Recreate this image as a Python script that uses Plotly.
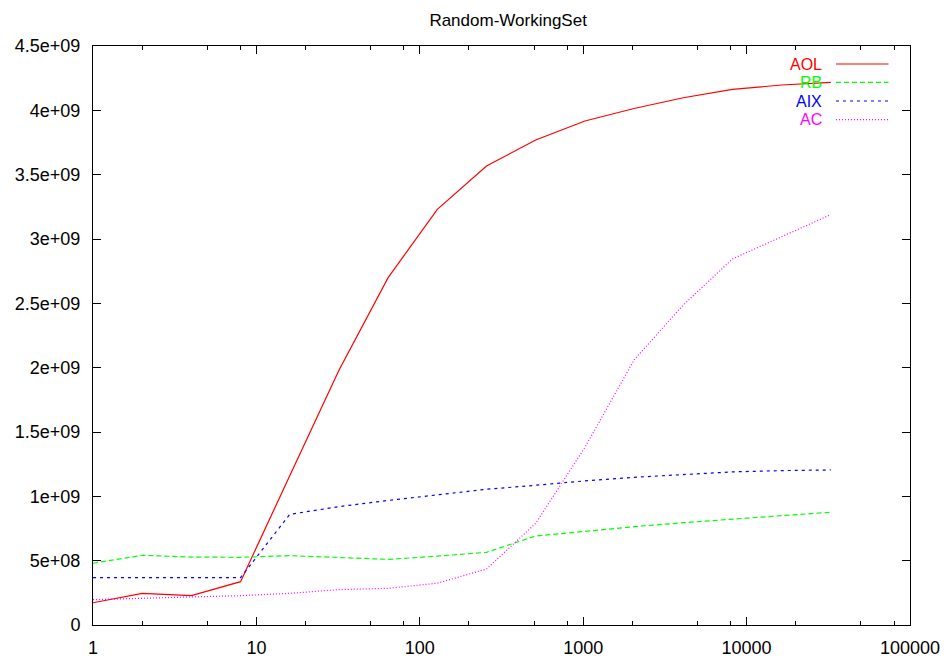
import plotly.graph_objects as go

# Working-set size (powers of two) on a log axis
working_set = [1, 2, 4, 8, 16, 32, 64, 128, 256, 512, 1024, 2048, 4096, 8192, 16384, 32768]

aol = [1.73e8, 2.46e8, 2.28e8, 3.37e8, 1.16e9, 1.98e9, 2.70e9, 3.23e9,
       3.567e9, 3.77e9, 3.917e9, 4.014e9, 4.098e9, 4.163e9, 4.197e9, 4.218e9]
rb = [4.80e8, 5.42e8, 5.28e8, 5.26e8, 5.39e8, 5.26e8, 5.10e8, 5.35e8,
      5.65e8, 6.92e8, 7.30e8, 7.64e8, 7.95e8, 8.24e8, 8.50e8, 8.76e8]
aix = [3.68e8, 3.68e8, 3.68e8, 3.68e8, 8.60e8, 9.20e8, 9.68e8, 1.01e9,
       1.055e9, 1.086e9, 1.12e9, 1.148e9, 1.171e9, 1.19e9, 1.20e9, 1.205e9]
ac = [1.97e8, 2.10e8, 2.18e8, 2.28e8, 2.46e8, 2.75e8, 2.85e8, 3.25e8,
      4.35e8, 7.90e8, 1.38e9, 2.06e9, 2.487e9, 2.845e9, 3.018e9, 3.19e9]

series_names = ["AOL", "RB", "AIX", "AC"]
series_values = [aol, rb, aix, ac]
series_colors = ["#ff0000", "#00ff00", "#0000ff", "#ff00ff"]
series_dash = ["solid", "5px,3px", "3px,4px", "1px,2px"]

y_tickvals = [0, 5e8, 1e9, 1.5e9, 2e9, 2.5e9, 3e9, 3.5e9, 4e9, 4.5e9]
y_ticktext = ["0", "5e+08", "1e+09", "1.5e+09", "2e+09", "2.5e+09",
              "3e+09", "3.5e+09", "4e+09", "4.5e+09"]
x_tickvals = [1, 10, 100, 1000, 10000, 100000]
x_ticktext = ["1", "10", "100", "1000", "10000", "100000"]
x_minorvals = [2, 5, 8, 20, 50, 80, 200, 500, 800, 2000, 5000, 8000,
               20000, 50000, 80000]

FONT = "Liberation Sans, Arial, sans-serif"

fig = go.Figure()
for name, vals, color, dash in zip(series_names, series_values, series_colors, series_dash):
    fig.add_trace(go.Scatter(
        x=working_set, y=vals, name=name, mode="lines",
        line=dict(color=color, width=1.2, dash=dash),
        showlegend=False,
    ))

# Key in the upper-right corner: right-aligned labels followed by line samples
key_rows_y = [0.9689, 0.9373, 0.905, 0.8727]
for name, color, dash, ky in zip(series_names, series_colors, series_dash, key_rows_y):
    fig.add_annotation(
        x=0.8947, y=ky, xref="paper", yref="paper", text=name,
        showarrow=False, xanchor="right", yanchor="middle",
        font=dict(family=FONT, size=16, color=color),
    )
    fig.add_shape(
        type="line", xref="paper", yref="paper",
        x0=0.9094, x1=0.9737, y0=ky, y1=ky,
        line=dict(color=color, width=1.2, dash=dash),
    )

fig.update_layout(
    width=948, height=658,
    margin=dict(l=93, r=38, t=46, b=33),
    paper_bgcolor="white", plot_bgcolor="white",
    font=dict(family=FONT, size=18, color="black"),
    title=dict(text="Random-WorkingSet", xref="container", x=0.536,
               y=0.969, xanchor="center", yanchor="middle",
               font=dict(family=FONT, size=17, color="black")),
)

fig.update_xaxes(
    type="log", range=[0, 5], automargin=False,
    tickmode="array", tickvals=x_tickvals, ticktext=x_ticktext,
    ticks="inside", ticklen=8, tickwidth=1, tickcolor="black",
    showline=True, linecolor="black", linewidth=1, mirror="ticks",
    showgrid=False, zeroline=False, ticklabelstandoff=6,
    minor=dict(tickmode="array", tickvals=x_minorvals, ticks="inside",
               ticklen=4, tickwidth=1, tickcolor="black", showgrid=False),
)
fig.update_yaxes(
    range=[0, 4.5e9], automargin=False,
    tickmode="array", tickvals=y_tickvals, ticktext=y_ticktext,
    ticks="inside", ticklen=8, tickwidth=1, tickcolor="black",
    showline=True, linecolor="black", linewidth=1, mirror="ticks",
    showgrid=False, zeroline=False, ticklabelstandoff=8,
)

fig.write_html("out.html")
